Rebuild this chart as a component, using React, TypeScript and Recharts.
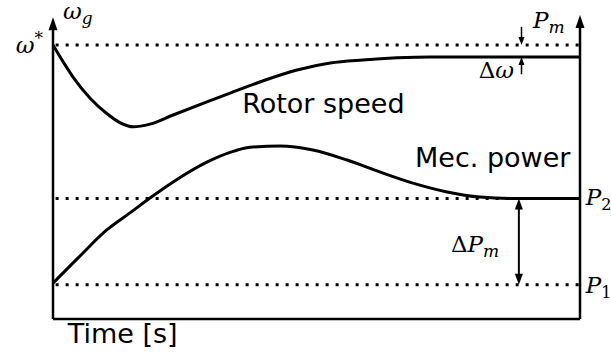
import {
  ComposedChart, Line, XAxis, YAxis, ReferenceLine, ReferenceDot,
} from 'recharts'

// schematic response after a load step, time in s, levels in % of the y range
const rotorTime = [0, 0.38, 0.7, 1.02, 1.27, 1.52, 1.84, 2.28, 2.92, 3.36, 3.98, 4.63, 5.26, 5.88, 6.53, 7.15, 8.29, 10]
const rotorSpeed = [90.1, 79.6, 72.7, 67.6, 64.6, 63.2, 64.1, 67.1, 71.4, 74.3, 78.3, 81.9, 84.2, 85.2, 85.9, 86.2, 86.2, 86.2]

const powerTime = [0, 0.51, 1.02, 1.46, 1.84, 2.28, 2.92, 3.36, 3.74, 4.31, 4.93, 5.58, 6.2, 6.83, 7.48, 8.1, 8.73, 10]
const mecPower = [11.8, 20.7, 29.3, 34.9, 39.8, 45.1, 51.6, 54.8, 56.5, 56.9, 55.6, 52.3, 48.4, 44.7, 41.8, 40.1, 39.6, 39.6]

const OMEGA_REF = 90.1
const P1 = 11.3
const P2 = 39.6
const ROTOR_FINAL = 86.2

const rotorData = rotorTime.map((t, i) => ({ t, v: rotorSpeed[i] }))
const powerData = powerTime.map((t, i) => ({ t, v: mecPower[i] }))

const SANS = 'DejaVu Sans, sans-serif'
const SERIF = 'DejaVu Serif, serif'

function Arrow(props: any) {
  const { x1, y1, x2, y2, both = false, w = 9, l = 13, sw = 2.5 } = props
  const dx = x2 - x1, dy = y2 - y1
  const len = Math.hypot(dx, dy) || 1
  const ux = dx / len, uy = dy / len
  const px = -uy, py = ux
  const head = (tx: number, ty: number, ax: number, ay: number) =>
    `${tx},${ty} ${tx - ax * l + px * w / 2},${ty - ay * l + py * w / 2} ${tx - ax * l - px * w / 2},${ty - ay * l - py * w / 2}`
  const sx = both ? x1 + ux * l * 0.8 : x1
  const sy = both ? y1 + uy * l * 0.8 : y1
  return (
    <g>
      <line x1={sx} y1={sy} x2={x2 - ux * l * 0.8} y2={y2 - uy * l * 0.8} stroke="#000" strokeWidth={sw} />
      <polygon points={head(x2, y2, ux, uy)} fill="#000" />
      {both && <polygon points={head(x1, y1, -ux, -uy)} fill="#000" />}
    </g>
  )
}

// text anchored at a data point (start of baseline)
function note(content: React.ReactNode, style: any) {
  return (p: any) => {
    const { x, y } = p.viewBox
    return <text x={x} y={y} fill="#000" {...style}>{content}</text>
  }
}

const sansStyle = { fontFamily: SANS, fontSize: 27 }
const mathStyle = { fontFamily: SERIF, fontSize: 23 }
const sub = (s: string) => <tspan dy={5} fontSize={17} fontStyle="italic">{s}</tspan>
const it = (s: string) => <tspan fontStyle="italic">{s}</tspan>

const dotted = { stroke: '#000', strokeWidth: 3, strokeDasharray: '3 7' }

export default function App() {
  return (
    <div style={{ position: 'absolute', left: 0, top: 0, background: '#fff' }}>
      <ComposedChart width={611} height={358} margin={{ top: 15, right: 31, bottom: 0, left: 53 }}>
        <XAxis
          type="number"
          dataKey="t"
          domain={[0, 10]}
          allowDataOverflow
          ticks={[]}
          tick={false}
          tickLine={false}
          height={39}
          axisLine={{ stroke: '#000', strokeWidth: 2.5 }}
        />
        <YAxis hide type="number" domain={[0, 100]} allowDataOverflow />

        <ReferenceLine segment={[{ x: 0.05, y: OMEGA_REF }, { x: 10, y: OMEGA_REF }]} {...dotted} ifOverflow="visible" />
        <ReferenceLine segment={[{ x: 0.05, y: P2 }, { x: 10, y: P2 }]} {...dotted} ifOverflow="visible" />
        <ReferenceLine segment={[{ x: 0.05, y: P1 }, { x: 10, y: P1 }]} {...dotted} ifOverflow="visible" />

        <Line data={rotorData} dataKey="v" type="monotone" stroke="#000" strokeWidth={3} dot={false} isAnimationActive={false} />
        <Line data={powerData} dataKey="v" type="monotone" stroke="#000" strokeWidth={3} dot={false} isAnimationActive={false} />

        {/* axes with arrow heads */}
        <ReferenceLine segment={[{ x: 0, y: 0 }, { x: 0, y: 99.3 }]} ifOverflow="visible" shape={(p: any) => <Arrow {...p} />} />
        <ReferenceLine segment={[{ x: 10, y: 0 }, { x: 10, y: 100 }]} ifOverflow="visible" shape={(p: any) => <Arrow {...p} />} />

        {/* delta arrows */}
        <ReferenceLine segment={[{ x: 8.89, y: 96.1 }, { x: 8.89, y: OMEGA_REF }]} ifOverflow="visible" shape={(p: any) => <Arrow {...p} w={6} l={8} sw={1.5} />} />
        <ReferenceLine segment={[{ x: 8.89, y: 80.5 }, { x: 8.89, y: ROTOR_FINAL }]} ifOverflow="visible" shape={(p: any) => <Arrow {...p} w={6} l={8} sw={1.5} />} />
        <ReferenceLine segment={[{ x: 8.84, y: P2 }, { x: 8.84, y: P1 }]} ifOverflow="visible" shape={(p: any) => <Arrow {...p} both w={8} l={11} sw={2} />} />

        {/* labels */}
        <ReferenceDot x={0.19} y={98.6} r={0} ifOverflow="visible" label={note(<>{it('ω')}{sub('g')}</>, mathStyle)} />
        <ReferenceDot x={-0.19} y={87.5} r={0} ifOverflow="visible" label={note(<>{it('ω')}<tspan dy={-9} fontSize={17}>*</tspan></>, { ...mathStyle, textAnchor: 'end' })} />
        <ReferenceDot x={9.11} y={95.7} r={0} ifOverflow="visible" label={note(<>{it('P')}{sub('m')}</>, mathStyle)} />
        <ReferenceDot x={8.75} y={79.2} r={0} ifOverflow="visible" label={note(<>Δ{it('ω')}</>, { ...mathStyle, textAnchor: 'end' })} />
        <ReferenceDot x={10.11} y={37.5} r={0} ifOverflow="visible" label={note(<>{it('P')}<tspan dy={5} fontSize={16}>2</tspan></>, mathStyle)} />
        <ReferenceDot x={10.11} y={8.6} r={0} ifOverflow="visible" label={note(<>{it('P')}<tspan dy={5} fontSize={16}>1</tspan></>, mathStyle)} />
        <ReferenceDot x={7.55} y={22.0} r={0} ifOverflow="visible" label={note(<>Δ{it('P')}{sub('m')}</>, mathStyle)} />
        <ReferenceDot x={3.59} y={67.8} r={0} ifOverflow="visible" label={note('Rotor speed', sansStyle)} />
        <ReferenceDot x={6.87} y={50.0} r={0} ifOverflow="visible" label={note('Mec. power', sansStyle)} />
        <ReferenceDot x={0.28} y={-7.9} r={0} ifOverflow="visible" label={note('Time [s]', sansStyle)} />
      </ComposedChart>
    </div>
  )
}
